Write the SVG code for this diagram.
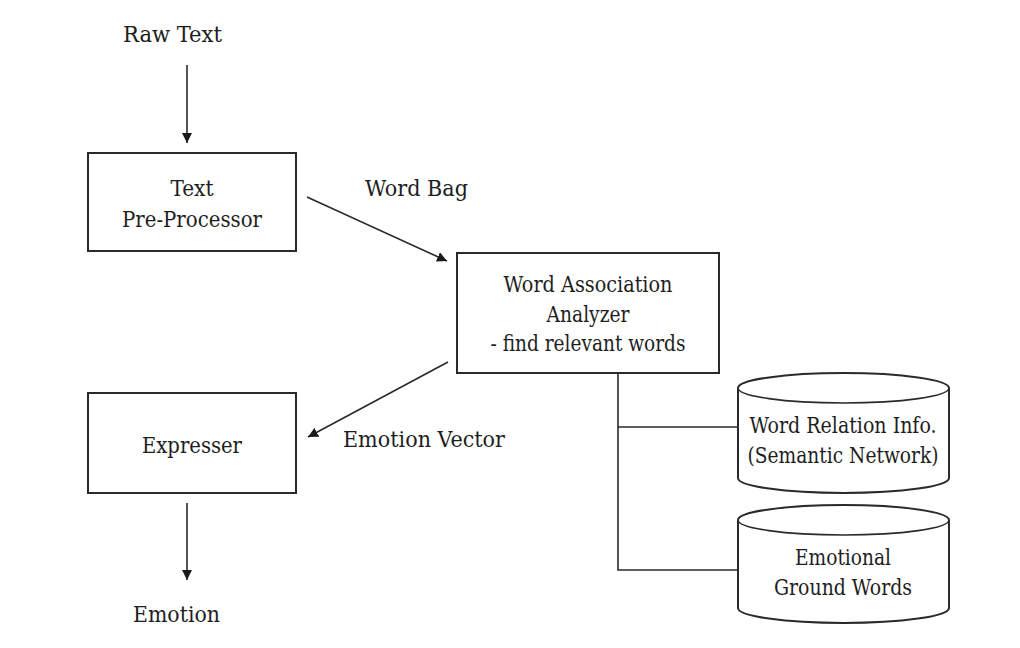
<svg xmlns="http://www.w3.org/2000/svg" width="1020" height="648" viewBox="0 0 1020 648">
  <style>
    .box { fill: #ffffff; stroke: #2a2a2a; stroke-width: 2; }
    .line { fill: none; stroke: #2a2a2a; stroke-width: 1.6; }
    text { font-family: "DejaVu Serif Condensed", "DejaVu Serif", serif; font-stretch: condensed; fill: #1e1e1e; }
    .big { font-size: 22.5px; }
    .small { font-size: 22px; }
    .c { text-anchor: middle; }
  </style>
  <defs>
    <marker id="head" viewBox="0 0 10 10" refX="10" refY="5" markerWidth="10" markerHeight="10" markerUnits="userSpaceOnUse" orient="auto">
      <path d="M0,0 L10,5 L0,10 z" fill="#1a1a1a"/>
    </marker>
  </defs>
  <rect width="1020" height="648" fill="#ffffff"/>

  <!-- connectors -->
  <g id="connectors">
    <line class="line" x1="187" y1="65" x2="187" y2="143" marker-end="url(#head)"/>
    <line class="line" x1="307" y1="197" x2="447" y2="261" marker-end="url(#head)"/>
    <line class="line" x1="448" y1="362" x2="308" y2="437" marker-end="url(#head)"/>
    <line class="line" x1="187" y1="503" x2="187" y2="580" marker-end="url(#head)"/>
    <polyline class="line" points="618,373 618,570 738,570"/>
    <line class="line" x1="618" y1="427" x2="738" y2="427"/>
  </g>

  <!-- free labels -->
  <g id="labels">
    <text class="big" x="123" y="42" textLength="99" lengthAdjust="spacingAndGlyphs">Raw Text</text>
    <text class="big" x="365" y="196" textLength="103" lengthAdjust="spacingAndGlyphs">Word Bag</text>
    <text class="big" x="343" y="447" textLength="162" lengthAdjust="spacingAndGlyphs">Emotion Vector</text>
    <text class="big" x="133" y="622" textLength="87" lengthAdjust="spacingAndGlyphs">Emotion</text>
  </g>

  <g id="preprocessor">
    <rect class="box" x="88" y="153" width="208" height="98"/>
    <text class="big c" x="192" y="196" textLength="43" lengthAdjust="spacingAndGlyphs">Text</text>
    <text class="big c" x="192" y="227" textLength="140" lengthAdjust="spacingAndGlyphs">Pre-Processor</text>
  </g>

  <g id="analyzer">
    <rect class="box" x="457" y="253" width="262" height="120"/>
    <text class="small c" x="588" y="292" textLength="169" lengthAdjust="spacingAndGlyphs">Word Association</text>
    <text class="small c" x="588" y="322" textLength="83" lengthAdjust="spacingAndGlyphs">Analyzer</text>
    <text class="small c" x="588" y="351" textLength="195" lengthAdjust="spacingAndGlyphs">- find relevant words</text>
  </g>

  <g id="expresser">
    <rect class="box" x="88" y="393" width="208" height="100"/>
    <text class="big c" x="192" y="453" textLength="100" lengthAdjust="spacingAndGlyphs">Expresser</text>
  </g>

  <g id="relation-db">
    <path class="box" d="M738,388 L738,478 A105.5,15 0 0 0 949,478 L949,388 A105.5,15 0 0 0 738,388 z"/>
    <path class="line" d="M738,388 A105.5,15 0 0 0 949,388" stroke-width="2"/>
    <text class="small c" x="843" y="433" textLength="187" lengthAdjust="spacingAndGlyphs">Word Relation Info.</text>
    <text class="small c" x="843" y="463" textLength="191" lengthAdjust="spacingAndGlyphs">(Semantic Network)</text>
  </g>

  <g id="ground-words-db">
    <path class="box" d="M738,520 L738,608 A105.5,15 0 0 0 949,608 L949,520 A105.5,15 0 0 0 738,520 z"/>
    <path class="line" d="M738,520 A105.5,15 0 0 0 949,520" stroke-width="2"/>
    <text class="small c" x="843" y="565" textLength="96" lengthAdjust="spacingAndGlyphs">Emotional</text>
    <text class="small c" x="843" y="595" textLength="138" lengthAdjust="spacingAndGlyphs">Ground Words</text>
  </g>
</svg>
